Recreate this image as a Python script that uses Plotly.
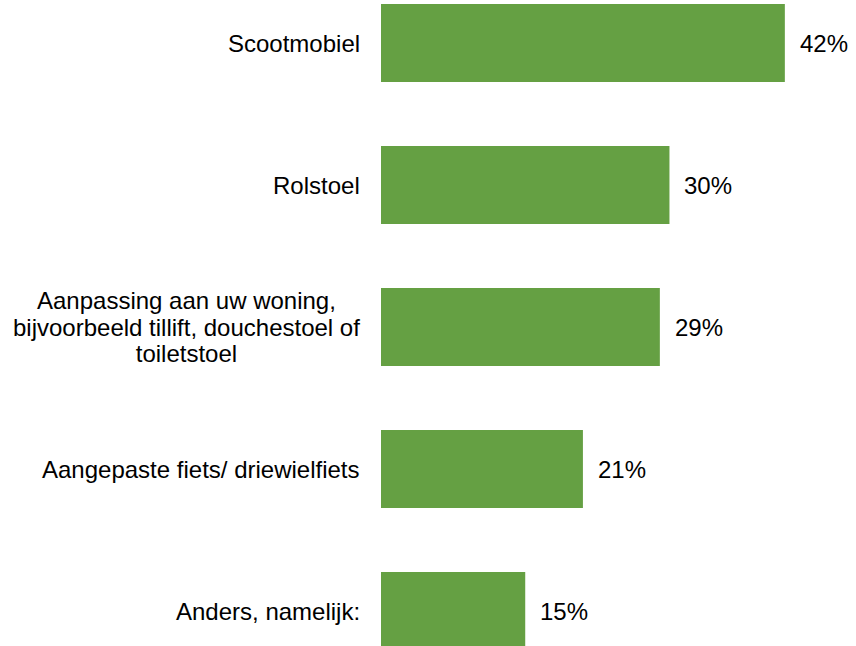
import plotly.graph_objects as go

categories = [
    "Scootmobiel",
    "Rolstoel",
    "Aanpassing aan uw woning,<br>bijvoorbeeld tillift, douchestoel of<br>toiletstoel",
    "Aangepaste fiets/ driewielfiets",
    "Anders, namelijk:",
]
values = [42, 30, 29, 21, 15]
value_labels = [f"{v}%" for v in values]

BAR_COLOR = "#65A043"
FONT = "Liberation Sans, Arial, sans-serif"
LABEL_SIZE = 24
# base size of the label block; it sets the spacing of wrapped lines (1.3 em)
LINE_BASE = 20.5

fig = go.Figure(
    go.Bar(
        x=values,
        y=categories,
        orientation="h",
        marker=dict(color=BAR_COLOR, line=dict(width=0)),
        width=0.55,
        hoverinfo="skip",
    )
)

# category labels left of the bars, wrapped lines centred
for cat in categories:
    styled = "<br>".join(
        f"<span style='font-size:{LABEL_SIZE}px'>{line}</span>"
        for line in cat.split("<br>")
    )
    fig.add_annotation(
        x=0, y=cat, xref="x", yref="y",
        text=styled, showarrow=False,
        xanchor="right", yanchor="middle", align="center",
        xshift=-19,
        font=dict(family=FONT, size=LINE_BASE, color="#000000"),
    )

# value labels to the right of each bar
for cat, v, lab in zip(categories, values, value_labels):
    fig.add_annotation(
        x=v, y=cat, xref="x", yref="y",
        text=lab, showarrow=False,
        xanchor="left", yanchor="middle",
        xshift=13,
        font=dict(family=FONT, size=LABEL_SIZE, color="#000000"),
    )

fig.update_layout(
    width=856,
    height=646,
    margin=dict(l=381, r=0, t=0, b=0),
    paper_bgcolor="white",
    plot_bgcolor="white",
    showlegend=False,
    xaxis=dict(range=[0, 49.4], visible=False, fixedrange=True),
    yaxis=dict(
        type="category",
        categoryorder="array",
        categoryarray=categories,
        range=[4.246, -0.303],
        visible=False,
        fixedrange=True,
    ),
)

fig.write_html("out.html")
